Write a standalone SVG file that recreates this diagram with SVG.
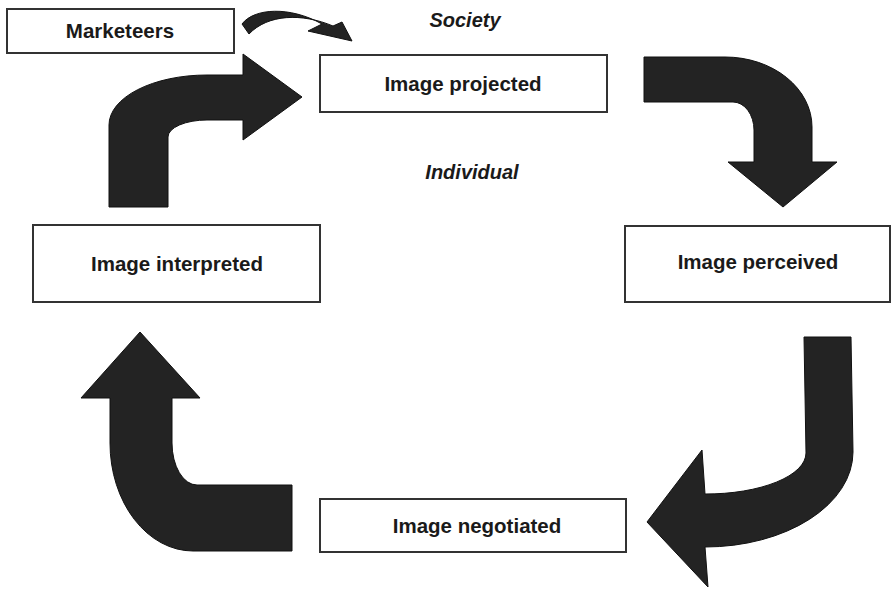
<svg xmlns="http://www.w3.org/2000/svg" width="891" height="589" viewBox="0 0 891 589">
  <style>
    .box { fill: #ffffff; stroke: #333333; stroke-width: 2; }
    .label { font-family: "Liberation Sans", Arial, sans-serif; font-size: 20.5px; font-weight: bold; fill: #1a1a1a; text-anchor: middle; }
    .tag { font-family: "Liberation Sans", Arial, sans-serif; font-size: 20px; font-weight: bold; font-style: italic; fill: #1a1a1a; text-anchor: middle; }
    .arrow { fill: #232323; stroke: #111111; stroke-width: 1; stroke-linejoin: miter; }
  </style>
  <rect width="891" height="589" fill="#ffffff"/>

  <!-- level captions -->
  <text class="tag" x="465" y="27">Society</text>
  <text class="tag" x="472" y="179">Individual</text>

  <!-- stages of the image cycle -->
  <g id="marketeers">
    <rect class="box" x="7" y="9" width="227" height="44"/>
    <text class="label" x="120" y="38">Marketeers</text>
  </g>
  <g id="image-projected">
    <rect class="box" x="320" y="55" width="287" height="57"/>
    <text class="label" x="463" y="91">Image projected</text>
  </g>
  <g id="image-perceived">
    <rect class="box" x="625" y="226" width="265" height="76"/>
    <text class="label" x="758" y="269">Image perceived</text>
  </g>
  <g id="image-negotiated">
    <rect class="box" x="320" y="499" width="306" height="53"/>
    <text class="label" x="477" y="533">Image negotiated</text>
  </g>
  <g id="image-interpreted">
    <rect class="box" x="33" y="225" width="287" height="77"/>
    <text class="label" x="177" y="271">Image interpreted</text>
  </g>

  <!-- block arrows linking the stages -->
  <g id="connectors">
    <!-- Marketeers to projected image -->
    <path class="arrow" d="M 242 24 C 254 8, 290 6, 322 24 L 308 31 L 352 41 L 342 22 L 333 26 C 302 13, 268 14, 249 34 Z"/>
    <!-- projected to perceived -->
    <path class="arrow" d="M 644 57 L 725 57 A 87 70 0 0 1 812 127 L 812 162 L 837 162 L 783 207 L 728 162 L 754 162 L 754 130 A 21 28 0 0 0 733 102 L 644 102 Z"/>
    <!-- perceived to negotiated -->
    <path class="arrow" d="M 804 337 L 851 337 L 853 452 A 148 95 0 0 1 705 547 L 708 587 L 647 522 L 702 450 L 705 494 A 100 41 0 0 0 806 453 Z"/>
    <!-- negotiated to interpreted -->
    <path class="arrow" d="M 292 485 L 292 551 L 193 551 A 83 108 0 0 1 110 443 L 110 398 L 81 398 L 140 332 L 200 398 L 172 398 L 172 443 A 25 42 0 0 0 197 485 Z"/>
    <!-- interpreted back to projected -->
    <path class="arrow" d="M 109 207 L 109 125 A 98 50 0 0 1 207 75 L 243 75 L 243 54 L 302 97 L 243 140 L 243 120 L 207 120 A 39 17 0 0 0 168 137 L 168 207 Z"/>
  </g>
</svg>
